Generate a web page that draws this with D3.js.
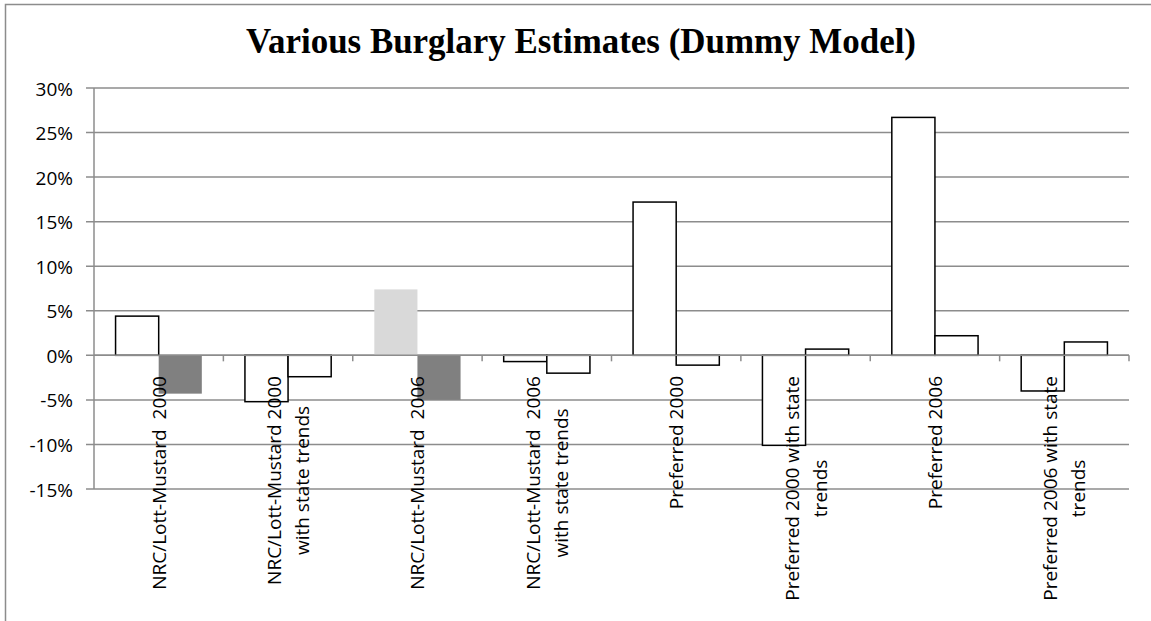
<!DOCTYPE html>
<html>
<head>
<meta charset="utf-8">
<script src="https://cdn.jsdelivr.net/npm/d3@7"></script>
<style>
  html, body { margin: 0; padding: 0; background: #fff; }
  svg { display: block; }
</style>
</head>
<body>
<svg id="chart" width="1151" height="621"></svg>
<script>
// Category labels (line breaks as they wrap under the axis)
const categories = [
  "NRC/Lott-Mustard  2000",
  "NRC/Lott-Mustard 2000\nwith state trends",
  "NRC/Lott-Mustard  2006",
  "NRC/Lott-Mustard  2006\nwith state trends",
  "Preferred 2000",
  "Preferred 2000 with state\ntrends",
  "Preferred 2006",
  "Preferred 2006 with state\ntrends"
];

// Estimates, in percent
const seriesA = [4.4, -5.2, 7.4, -0.7, 17.2, -10.1, 26.7, -4.0];
const seriesB = [-4.3, -2.4, -5.0, -2.0, -1.1, 0.7, 2.2, 1.5];

// Value axis ticks, in percent
const yTicks = [-15, -10, -5, 0, 5, 10, 15, 20, 25, 30];

const title = "Various Burglary Estimates (Dummy Model)";

// Shaded bars: [series index, category index] -> fill
const shaded = new Map([
  ["1-0", "#808080"],
  ["0-2", "#d9d9d9"],
  ["1-2", "#808080"]
]);

const svg = d3.select("#chart");
const plot = { left: 94, right: 1129, top: 88, bottom: 489 };
const labelFont = "'Open Sans', sans-serif";
const labelSize = 19;

// Outer chart frame (runs off the right and bottom edges)
svg.append("rect")
  .attr("x", 5.5).attr("y", 4.5)
  .attr("width", 1200).attr("height", 700)
  .attr("fill", "none")
  .attr("stroke", "#8c8c8c")
  .attr("stroke-width", 1.5);

svg.append("text")
  .attr("x", 581).attr("y", 53)
  .attr("text-anchor", "middle")
  .attr("font-family", "'Liberation Serif', 'Times New Roman', serif")
  .attr("font-weight", "bold")
  .attr("font-size", 35)
  .attr("textLength", 670)
  .attr("lengthAdjust", "spacingAndGlyphs")
  .attr("fill", "#000")
  .text(title);

const y = d3.scaleLinear().domain([-15, 30]).range([plot.bottom, plot.top]);
const x0 = d3.scaleBand().domain(d3.range(categories.length)).range([plot.left, plot.right]).padding(0);
const x1 = d3.scaleBand().domain([0, 1]).range([0, x0.bandwidth()]).paddingInner(0).paddingOuter(0.5);

const gridColor = "#8c8c8c";

// Horizontal gridlines
svg.append("g")
  .selectAll("line")
  .data(yTicks)
  .join("line")
  .attr("x1", plot.left - 8).attr("x2", plot.right)
  .attr("y1", d => y(d)).attr("y2", d => y(d))
  .attr("stroke", gridColor)
  .attr("stroke-width", 1.5);

// Value axis labels
svg.append("g")
  .selectAll("text")
  .data(yTicks)
  .join("text")
  .attr("x", 73)
  .attr("y", d => y(d) + 7.5)
  .attr("text-anchor", "end")
  .attr("font-family", labelFont)
  .attr("font-size", labelSize)
  .attr("fill", "#000")
  .text(d => d + "%");

// Bars
const series = [seriesA, seriesB];
const bars = [];
series.forEach((vals, s) => vals.forEach((v, c) => bars.push({ s, c, v })));

svg.append("g")
  .selectAll("rect")
  .data(bars)
  .join("rect")
  .attr("x", d => x0(d.c) + x1(d.s))
  .attr("width", x1.bandwidth())
  .attr("y", d => y(Math.max(0, d.v)))
  .attr("height", d => Math.abs(y(d.v) - y(0)))
  .attr("fill", d => shaded.get(d.s + "-" + d.c) || "#fff")
  .attr("stroke", d => shaded.has(d.s + "-" + d.c) ? "none" : "#000")
  .attr("stroke-width", 1.5);

// Value axis line
svg.append("line")
  .attr("x1", plot.left).attr("x2", plot.left)
  .attr("y1", plot.top).attr("y2", plot.bottom)
  .attr("stroke", gridColor).attr("stroke-width", 1.5);

// Category axis at zero, with tick marks between categories
svg.append("line")
  .attr("x1", plot.left).attr("x2", plot.right)
  .attr("y1", y(0)).attr("y2", y(0))
  .attr("stroke", gridColor).attr("stroke-width", 1.5);

svg.append("g")
  .selectAll("line")
  .data(d3.range(1, categories.length + 1))
  .join("line")
  .attr("x1", i => x0.step() * i + plot.left)
  .attr("x2", i => x0.step() * i + plot.left)
  .attr("y1", y(0)).attr("y2", y(0) + 6)
  .attr("stroke", gridColor).attr("stroke-width", 1.5);

// Rotated category labels: block top aligned under the axis, lines centred
const labelTop = 376;
const lineGap = 28;
const labels = svg.append("g")
  .attr("font-family", labelFont)
  .attr("font-size", labelSize)
  .attr("fill", "#000");

categories.forEach((name, c) => {
  const lines = name.split("\n");
  const cx = x0(c) + x0.bandwidth() / 2;
  const g = labels.append("g");
  const texts = lines.map((ln, i) => g.append("text")
    .attr("text-anchor", "middle")
    .attr("xml:space", "preserve")
    .style("white-space", "pre")
    .attr("y", (i - (lines.length - 1) / 2) * lineGap + 7)
    .text(ln));
  const maxLen = d3.max(texts, t => t.node().getComputedTextLength());
  texts.forEach(t => t.attr("x", -maxLen / 2));
  g.attr("transform", `translate(${cx},${labelTop}) rotate(-90)`);
});
</script>
</body>
</html>
